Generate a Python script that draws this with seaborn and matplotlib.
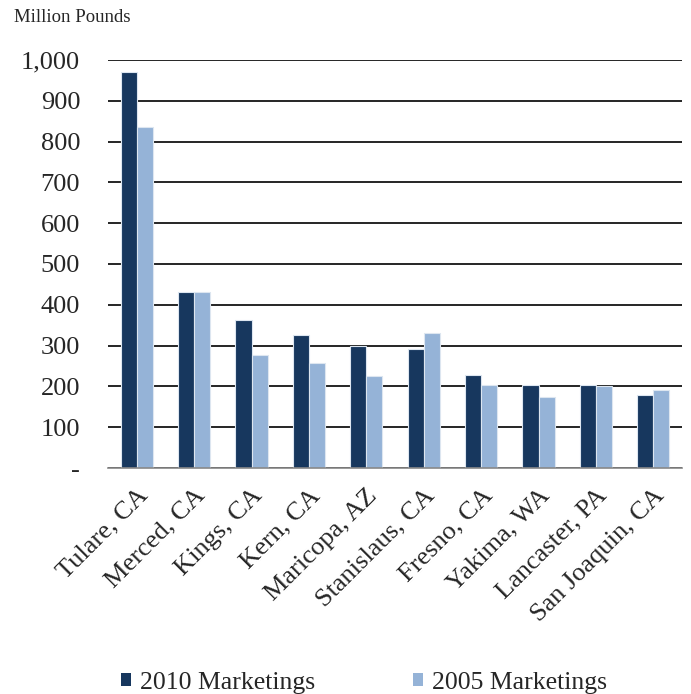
import matplotlib
matplotlib.use("Agg")
import matplotlib.pyplot as plt
import seaborn as sns
import pandas as pd
import numpy as np
from matplotlib.patches import Patch

counties = ["Tulare, CA", "Merced, CA", "Kings, CA", "Kern, CA", "Maricopa, AZ",
            "Stanislaus, CA", "Fresno, CA", "Yakima, WA", "Lancaster, PA", "San Joaquin, CA"]
m2010 = [971, 431, 362, 325, 299, 291, 227, 203, 203, 180]
m2005 = [835, 431, 278, 258, 225, 331, 203, 174, 201, 192]
series = ["2010 Marketings", "2005 Marketings"]
yticks = [0, 100, 200, 300, 400, 500, 600, 700, 800, 900, 1000]
ytick_labels = ["-", "100", "200", "300", "400", "500", "600", "700", "800", "900", "1,000"]
colors = ["#17375E", "#95B3D7"]

df = pd.DataFrame({
    "County": counties * 2,
    "Value": m2010 + m2005,
    "Series": [series[0]] * len(counties) + [series[1]] * len(counties),
})

sns.set_theme(style="white")
plt.rcParams["font.family"] = ["Liberation Serif", "DejaVu Serif"]

fig = plt.figure(figsize=(6.91, 6.94), dpi=100)
ax = fig.add_axes([108/691, 1-468/694, (682-108)/691, (468-60)/694])

sns.barplot(data=df, x="County", y="Value", hue="Series", palette=colors,
            width=0.56, edgecolor="#DDE6F0", linewidth=0.8, ax=ax, legend=False,
            saturation=1)

fs = 19
ax.set_ylim(0, 1000)
ax.set_xlim(-0.5, len(counties) - 0.5)
ax.set_yticks(yticks)
ax.set_yticklabels(ytick_labels, fontsize=fs)
ax.tick_params(axis="y", length=0, pad=20)
ax.yaxis.grid(True, color="black", linewidth=1.2)
ax.set_axisbelow(True)
for s in ["top", "right", "left"]:
    ax.spines[s].set_visible(False)
ax.spines["bottom"].set_color("#888888")
ax.spines["bottom"].set_linewidth(1.2)

ax.set_xticks(range(len(counties)))
ax.set_xticklabels(counties, rotation=45, ha="right", rotation_mode="anchor", fontsize=fs)
ax.tick_params(axis="x", which="major", length=0, pad=12)
ax.set_xticks(np.arange(-0.5, len(counties), 1.0), minor=True)
ax.tick_params(axis="x", which="minor", length=6, width=1.2, color="#888888", direction="out")
ax.set_xlabel("")
ax.set_ylabel("")

fig.text(14/691, 1-18/694, "Million Pounds", fontsize=13.5, va="center", ha="left")

handles = [Patch(facecolor=c, edgecolor="none") for c in colors]
fig.legend(handles, series, loc="center", bbox_to_anchor=(0.527, 1-683/694), ncol=2,
           frameon=False, fontsize=18.5, handlelength=0.4, handleheight=0.4,
           handletextpad=0.35, columnspacing=3.8)

fig.savefig("out.png", dpi=100)
